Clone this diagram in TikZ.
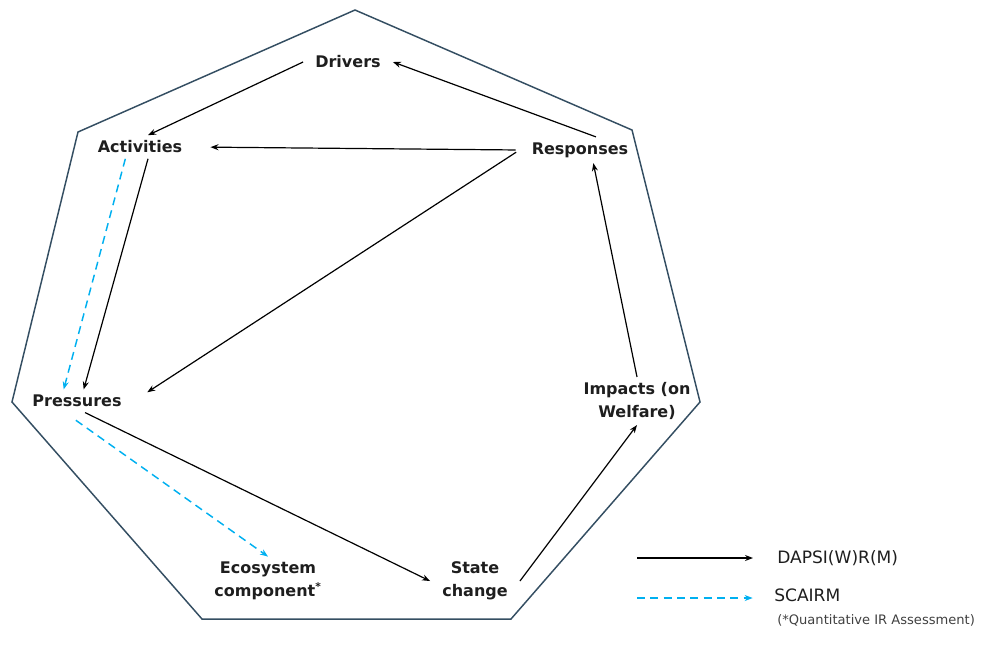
\documentclass[tikz,border=0pt]{standalone}
\usepackage{fontspec}
\setmainfont{DejaVu Sans}
\usepackage{xcolor}
\definecolor{dpBorder}{RGB}{52, 78, 98}
\definecolor{dpScairm}{RGB}{0, 176, 240}
\definecolor{dpText}{RGB}{30, 30, 30}
\usetikzlibrary{arrows.meta}

\begin{document}
\begin{tikzpicture}[
    x=0.75pt, y=-0.75pt,
    stage/.style={
        align=center, text=dpText,
        font=\fontsize{12}{17}\selectfont\bfseries,
        inner xsep=9pt, inner ysep=4pt
    },
    legendText/.style={
        anchor=west, text=dpText, inner sep=0pt,
        font=\fontsize{12.8}{14}\selectfont
    },
    noteText/.style={
        anchor=west, text=dpText!85, inner sep=0pt,
        font=\fontsize{9.8}{11}\selectfont
    },
    heptagon/.style={
        draw=dpBorder, line width=1.1pt, line join=miter
    },
    dapsiLine/.style={
        -{Stealth[length=6pt, width=4.5pt]}, line width=0.9pt, draw=black
    },
    scairmLine/.style={
        -{Stealth[length=6pt, width=4.5pt]}, line width=1.1pt, draw=dpScairm,
        dash pattern=on 6pt off 4pt
    }
]

    \useasboundingbox (0,0) rectangle (987,644);

    % Outer Heptagon Frame
    \draw[heptagon] (355,10) -- (632,130) -- (700,402) -- (511,619)
        -- (202,619) -- (12,402) -- (78,132) -- cycle;

    % Stages
    \node[stage] (drivers) at (348,62) {Drivers};
    \node[stage] (activities) at (140,147) {Activities};
    \node[stage] (responses) at (580,150) {Responses};
    \node[stage] (pressures) at (77,401) {Pressures};
    \node[stage] (impacts) at (637,401) {Impacts (on\\Welfare)};
    \node[stage] (ecosystem) at (268,581) {Ecosystem\\component\textsuperscript{*}};
    \node[stage] (state) at (475,581) {State\\change};

    % DAPSI(W)R(M) Links
    \draw[dapsiLine] (drivers.west) -- ([xshift=6pt]activities.north);
    \draw[dapsiLine] ([xshift=12pt]responses.north) -- (drivers.east);
    \draw[dapsiLine, shorten <=3pt, shorten >=12pt] (responses.west) -- (activities.east);
    \draw[dapsiLine, shorten <=3pt, shorten >=12pt] (responses.west) -- (pressures.east);
    \draw[dapsiLine] ([xshift=6pt]activities.south) -- ([xshift=5pt]pressures.north);
    \draw[dapsiLine] ([xshift=6pt]pressures.south) -- (state.west);
    \draw[dapsiLine] (state.east) -- (impacts.south);
    \draw[dapsiLine] (impacts.north) -- ([xshift=10pt]responses.south);

    % SCAIRM Links
    \draw[scairmLine] ([xshift=-11pt]activities.south) -- ([xshift=-10pt]pressures.north);
    \draw[scairmLine, shorten <=10pt] ([xshift=-9pt]pressures.south) -- (ecosystem.north);

    % Legend
    \coordinate (keyDapsi) at (637,558);
    \coordinate (keyScairm) at (637,598);
    \node[legendText] (keyDapsiText) at (777,558) {DAPSI(W)R(M)};
    \node[legendText] (keyScairmText) at (774,595) {SCAIRM};
    \node[noteText] (keyNote) at (777,620) {(*Quantitative IR Assessment)};
    \draw[dapsiLine, shorten >=18pt] (keyDapsi) -- (keyDapsiText.west);
    \draw[scairmLine, shorten >=16pt] (keyScairm) -- (keyScairmText.west |- keyScairm);

\end{tikzpicture}
\end{document}
